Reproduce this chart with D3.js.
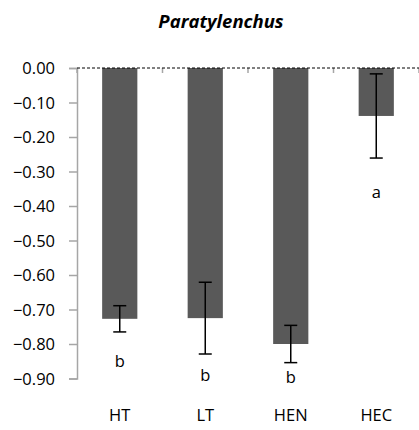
<!DOCTYPE html>
<meta charset="utf-8">
<script src="https://d3js.org/d3.v7.min.js"></script>
<style>
  body { margin: 0; background: #fff; }
  text { font-family: "Open Sans", sans-serif; fill: #000; }
</style>
<div id="chart"></div>
<script>
  // data
  const categories = ["HT", "LT", "HEN", "HEC"];
  const means = [-0.727, -0.725, -0.800, -0.139];
  const errors = [0.038, 0.104, 0.054, 0.122];
  const letters = ["b", "b", "b", "a"];
  const letterAt = [-0.851, -0.891, -0.897, -0.359];
  const yTicks = [0, -0.1, -0.2, -0.3, -0.4, -0.5, -0.6, -0.7, -0.8, -0.9];

  const W = 419, H = 430;
  const margin = { top: 68, right: 0, bottom: 51, left: 77 };
  const width = W - margin.left - margin.right,
    height = H - margin.top - margin.bottom;

  const svg = d3.select("#chart").append("svg")
    .attr("width", W).attr("height", H);

  // title
  svg.append("text")
    .attr("x", 221).attr("y", 28)
    .attr("text-anchor", "middle")
    .style("font-size", "18.5px")
    .style("font-weight", "bold")
    .style("font-style", "italic")
    .text("Paratylenchus");

  const g = svg.append("g")
    .attr("transform", `translate(${margin.left},${margin.top})`);

  const x = d3.scaleBand().domain(categories).range([0, width]).paddingInner(0.6).paddingOuter(0.3);
  const xb = d3.scaleBand().domain(categories).range([0, width]);
  const y = d3.scaleLinear().domain([0, -0.9]).range([0, height - 0.5]);

  // y axis
  const yAxis = g.append("g")
    .call(d3.axisLeft(y).tickValues(yTicks).tickSize(8).tickFormat(d3.format(".2f")));
  yAxis.select(".domain").attr("stroke", "#a6a6a6").attr("stroke-width", 1.5);
  yAxis.selectAll(".tick line").attr("stroke", "#a6a6a6").attr("stroke-width", 1.5);
  yAxis.selectAll("text").style("font-size", "16.5px").attr("x", -22).attr("dy", "0.35em");

  // bars
  g.selectAll(".bar").data(means).join("rect")
    .attr("class", "bar")
    .attr("x", (d, i) => x(categories[i]) - 0.5)
    .attr("width", x.bandwidth() + 1)
    .attr("y", y(0))
    .attr("height", d => y(d) - y(0))
    .attr("fill", "#595959");

  // x axis at zero: gray tick marks and dashed line
  g.selectAll(".xtick").data(d3.range(categories.length + 1)).join("line")
    .attr("class", "xtick")
    .attr("x1", i => i * xb.step()).attr("x2", i => i * xb.step())
    .attr("y1", y(0)).attr("y2", y(0) + 5)
    .attr("stroke", "#a6a6a6").attr("stroke-width", 1.5);
  g.append("line")
    .attr("x1", 0).attr("x2", width)
    .attr("y1", y(0)).attr("y2", y(0))
    .attr("stroke", "#000").attr("stroke-width", 1)
    .attr("stroke-dasharray", "3,2");

  // error bars
  const cap = 6.5;
  const eb = g.selectAll(".err").data(means).join("g").attr("class", "err");
  eb.append("line")
    .attr("x1", (d, i) => xb(categories[i]) + xb.bandwidth() / 2)
    .attr("x2", (d, i) => xb(categories[i]) + xb.bandwidth() / 2)
    .attr("y1", (d, i) => y(d + errors[i]))
    .attr("y2", (d, i) => y(d - errors[i]))
    .attr("stroke", "#000").attr("stroke-width", 1.5);
  [1, -1].forEach(s => {
    eb.append("line")
      .attr("x1", (d, i) => xb(categories[i]) + xb.bandwidth() / 2 - cap)
      .attr("x2", (d, i) => xb(categories[i]) + xb.bandwidth() / 2 + cap)
      .attr("y1", (d, i) => y(d + s * errors[i]))
      .attr("y2", (d, i) => y(d + s * errors[i]))
      .attr("stroke", "#000").attr("stroke-width", 1.5);
  });

  // significance letters
  g.selectAll(".letter").data(letters).join("text")
    .attr("class", "letter")
    .attr("x", (d, i) => xb(categories[i]) + xb.bandwidth() / 2)
    .attr("y", (d, i) => y(letterAt[i]))
    .attr("dy", "0.35em")
    .attr("text-anchor", "middle")
    .style("font-size", "16.5px")
    .text(d => d);

  // category labels
  g.selectAll(".cat").data(categories).join("text")
    .attr("class", "cat")
    .attr("x", d => xb(d) + xb.bandwidth() / 2)
    .attr("y", 347)
    .attr("dy", "0.35em")
    .attr("text-anchor", "middle")
    .style("font-size", "16.5px")
    .text(d => d);
</script>
